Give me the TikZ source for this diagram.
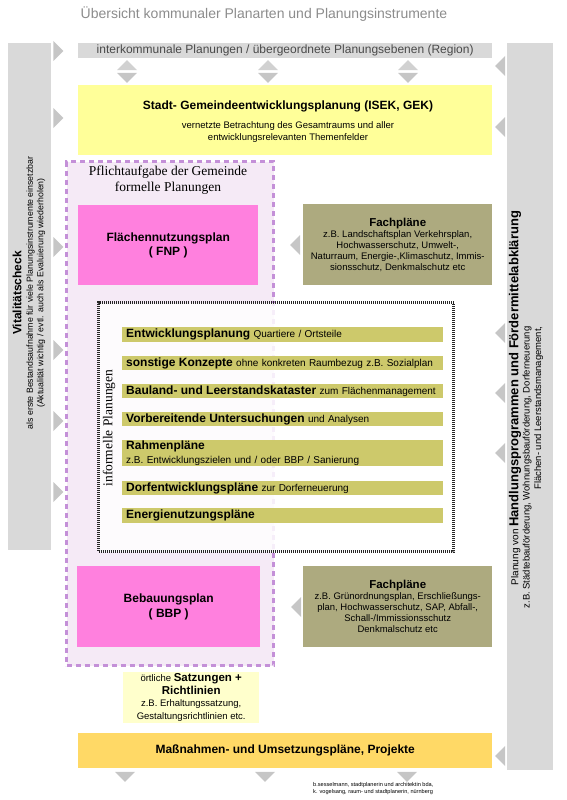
\documentclass[tikz,border=0pt]{standalone}
\usepackage{fontspec}
\setmainfont{Liberation Sans}
\newfontfamily\timesface{Liberation Serif}
\usetikzlibrary{shapes.geometric}

\definecolor{sidegray}{HTML}{D9D9D9}
\definecolor{trigray}{HTML}{C6C6C6}
\definecolor{titlegray}{HTML}{8C8C8C}
\definecolor{textgray}{HTML}{4A4A4A}
\definecolor{isekyellow}{HTML}{FFFF99}
\definecolor{lavender}{HTML}{F5EAF6}
\definecolor{lilac}{HTML}{C490D8}
\definecolor{fnppink}{HTML}{FF80DE}
\definecolor{facholive}{HTML}{ADAA7F}
\definecolor{barolive}{HTML}{CDC96B}
\definecolor{satzyellow}{HTML}{FFFFCC}
\definecolor{massorange}{HTML}{FFD966}

\begin{document}
\begin{tikzpicture}[
        x=1pt, y=-1pt,
        sidebar/.style={rectangle, fill=sidegray, anchor=north west, inner sep=0pt},
        planbox/.style={rectangle, anchor=north west, inner sep=0pt, align=center, font=\fontsize{12}{14.5}\selectfont\bfseries},
        fachbox/.style={rectangle, fill=facholive, anchor=north west, inner sep=0pt, minimum width=189, minimum height=81, align=center, font=\fontsize{9.5}{11}\selectfont},
        infobar/.style={rectangle, fill=barolive, anchor=north west, inner xsep=4pt, inner ysep=0pt, text width=313pt, minimum height=14, align=left, font=\fontsize{10}{14}\selectfont},
        pointer/.style={isosceles triangle, isosceles triangle stretches, fill=trigray, inner sep=0pt, minimum width=20, minimum height=10},
    ]
        \useasboundingbox (0,0) rectangle (566,800);

        % Title
        \node[text=titlegray, font=\fontsize{14}{16}\selectfont] (title) at (264,14) {Übersicht kommunaler Planarten und Planungsinstrumente};

        % Side bars
        \node[sidebar, minimum width=43, minimum height=507] (vital) at (8,43) {};
        \node[sidebar, minimum width=46, minimum height=727] (foerderbar) at (507,43) {};

        % Region and ISEK
        \node[sidebar, minimum width=414, minimum height=15, text=textgray, font=\fontsize{12}{13}\selectfont] (region) at (78,43) {interkommunale Planungen / übergeordnete Planungsebenen (Region)};
        \node[planbox, fill=isekyellow, minimum width=414, minimum height=70] (isek) at (78,85) {};
        \node[font=\fontsize{12}{14}\selectfont\bfseries] (isekTitle) at (288,106) {Stadt- Gemeindeentwicklungsplanung (ISEK, GEK)};
        \node[font=\fontsize{9.5}{11.5}\selectfont, align=center] (isekText) at (288,132) {vernetzte Betrachtung des Gesamtraums und aller\\entwicklungsrelevanten Themenfelder};

        % Formelle Planungen
        \node[rectangle, draw=lilac, fill=lavender, line width=3pt, dash pattern=on 5pt off 4pt, anchor=north west, minimum width=207, minimum height=504] (pflicht) at (65,160) {};
        \node[font=\timesface\fontsize{13.5}{16}\selectfont, align=center] (pflichtTitle) at (168,180) {Pflichtaufgabe der Gemeinde\\formelle Planungen};
        \node[planbox, fill=fnppink, minimum width=180, minimum height=80] (fnp) at (78,205) {Flächennutzungsplan\\( FNP )};
        \node[fachbox] (fachA) at (303,204) {{\fontsize{11.5}{13}\selectfont\bfseries Fachpläne}\\z.B. Landschaftsplan Verkehrsplan,\\Hochwasserschutz, Umwelt-,\\Naturraum, Energie-,Klimaschutz, Immis-\\sionsschutz, Denkmalschutz etc};

        % Informelle Planungen
        \node[rectangle, draw=black!85, line width=3pt, dash pattern=on 1pt off 1pt, fill=white, fill opacity=0.85, anchor=north west, minimum width=355, minimum height=249] (informell) at (97,301) {};
        \node[rotate=90, font=\timesface\fontsize{13.5}{16}\selectfont] (informellLabel) at (109,428) {informelle Planungen};
        \node[infobar, minimum height=15] (bar1) at (122,327) {{\fontsize{12}{14}\selectfont\bfseries Entwicklungsplanung} Quartiere / Ortsteile};
        \node[infobar] (bar2) at (122,356) {{\fontsize{12}{14}\selectfont\bfseries sonstige Konzepte} ohne konkreten Raumbezug z.B. Sozialplan};
        \node[infobar] (bar3) at (122,384) {{\fontsize{12}{14}\selectfont\bfseries Bauland- und Leerstandskataster} zum Flächenmanagement};
        \node[infobar] (bar4) at (122,412) {{\fontsize{12}{14}\selectfont\bfseries Vorbereitende Untersuchungen} und Analysen};
        \node[infobar, minimum height=26] (bar5) at (122,440) {{\fontsize{12}{14}\selectfont\bfseries Rahmenpläne}\\z.B. Entwicklungszielen und / oder BBP / Sanierung};
        \node[infobar] (bar6) at (122,481) {{\fontsize{12}{14}\selectfont\bfseries Dorfentwicklungspläne} zur Dorferneuerung};
        \node[infobar, minimum height=15] (bar7) at (122,508) {{\fontsize{12}{14}\selectfont\bfseries Energienutzungspläne}};

        % Bebauungsplan
        \node[planbox, fill=fnppink, minimum width=183, minimum height=81] (bbp) at (77,566) {Bebauungsplan\\( BBP )};
        \node[fachbox] (fachB) at (303,566) {{\fontsize{11.5}{13}\selectfont\bfseries Fachpläne}\\z.B. Grünordnungsplan, Erschließungs-\\plan, Hochwasserschutz, SAP, Abfall-,\\Schall-/Immissionsschutz\\Denkmalschutz etc};
        \node[rectangle, fill=satzyellow, anchor=north west, inner sep=0pt, minimum width=136, minimum height=51, align=center, font=\fontsize{9.5}{12.5}\selectfont] (satzung) at (123,672) {örtliche {\fontsize{11.5}{13}\selectfont\bfseries Satzungen +}\\{\fontsize{11.5}{13}\selectfont\bfseries Richtlinien}\\z.B. Erhaltungssatzung,\\Gestaltungsrichtlinien etc.};
        \node[planbox, fill=massorange, minimum width=414, minimum height=35] (mass) at (78,733) {Maßnahmen- und Umsetzungspläne, Projekte};

        % Pointers
        \foreach \y in {51,118,247,350,421,492}
            \node[pointer] (ptrL\y) at (57.5,\y) {};
        \foreach \y in {66,127,333,393,453,756}
            \node[pointer, shape border rotate=180] (ptrR\y) at (501,\y) {};
        \node[pointer, shape border rotate=180] (ptrFachA) at (296,245) {};
        \node[pointer, shape border rotate=180] (ptrFachB) at (297,607) {};
        \foreach \x in {127,268,408} {
            \node[pointer, shape border rotate=90, fill=trigray!80] (up\x) at (\x,66) {};
            \node[pointer, shape border rotate=270] (down\x) at (\x,77) {};
        }
        \foreach \x in {125,265,407}
            \node[pointer, shape border rotate=270] (out\x) at (\x,776) {};

        % Side texts
        \node[rotate=90, align=center, font=\fontsize{8.8}{10.5}\selectfont] (vitalText) at (29,293) {{\fontsize{12}{12}\selectfont\bfseries Vitalitätscheck}\\[1pt]als erste Bestandsaufnahme für viele Planungsinstrumente einsetzbar\\(Aktualität wichtig / evtl. auch als Evaluierung wiederholen)};
        \node[rotate=90, font=\fontsize{10}{11}\selectfont] (foerderTitle) at (515,398) {Planung von {\fontsize{13}{14}\selectfont\bfseries Handlungsprogrammen und Fördermittelabklärung}};
        \node[rotate=90, anchor=east, align=right, font=\fontsize{9.5}{11.5}\selectfont] (foerderText) at (533,323) {z.B. Städtebauförderung, Wohnungsbauförderung, Dorferneuerung\\Flächen- und Leerstandsmanagement,};

        % Credits
        \node[anchor=north west, align=left, inner sep=0pt, font=\fontsize{5.6}{6.8}\selectfont] (credit) at (313,782) {b.sesselmann, stadtplanerin und architektin bda,\\k. vogelsang, raum- und stadtplanerin, nürnberg};
    \end{tikzpicture}
\end{document}
